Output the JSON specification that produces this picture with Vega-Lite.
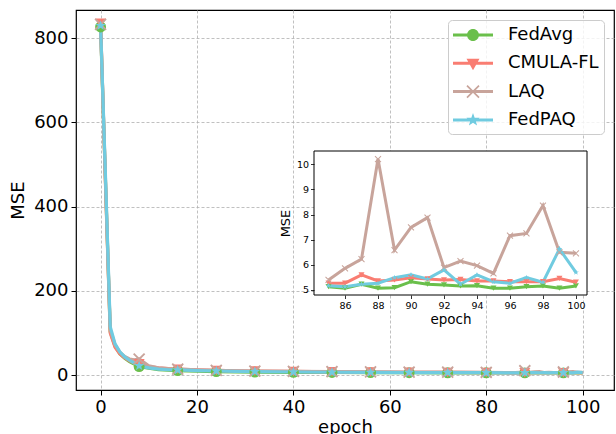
{
  "$schema": "https://vega.github.io/schema/vega-lite/v6.json",
  "width": 538,
  "height": 380,
  "autosize": "none",
  "padding": {"left": 76, "top": 10, "right": 2, "bottom": 44},
  "background": "white",
  "config": {
    "view": {"stroke": "black", "strokeWidth": 1.2},
    "font": "DejaVu Sans",
    "axis": {"labelFont": "DejaVu Sans", "titleFont": "DejaVu Sans", "labelColor": "black", "titleColor": "black", "titleFontWeight": "normal", "tickColor": "black", "domainColor": "black"},
    "legend": {"labelFont": "DejaVu Sans"}
  },
  "datasets": {
    "d": [
      {"series":"FedAvg","epoch":0,"mse":827},{"series":"FedAvg","epoch":1,"mse":465},{"series":"FedAvg","epoch":2,"mse":103},{"series":"FedAvg","epoch":3,"mse":68},{"series":"FedAvg","epoch":4,"mse":50},{"series":"FedAvg","epoch":5,"mse":40},{"series":"FedAvg","epoch":6,"mse":32},{"series":"FedAvg","epoch":7,"mse":26},{"series":"FedAvg","epoch":8,"mse":20},{"series":"FedAvg","epoch":10,"mse":16},{"series":"FedAvg","epoch":12,"mse":13},{"series":"FedAvg","epoch":14,"mse":11.5},{"series":"FedAvg","epoch":16,"mse":10.5},{"series":"FedAvg","epoch":20,"mse":9},{"series":"FedAvg","epoch":24,"mse":8.2},{"series":"FedAvg","epoch":28,"mse":7.6},{"series":"FedAvg","epoch":32,"mse":7.1},{"series":"FedAvg","epoch":40,"mse":6.5},{"series":"FedAvg","epoch":48,"mse":6.0},{"series":"FedAvg","epoch":56,"mse":5.7},{"series":"FedAvg","epoch":64,"mse":5.5},{"series":"FedAvg","epoch":72,"mse":5.3},{"series":"FedAvg","epoch":80,"mse":5.2},{"series":"FedAvg","epoch":84,"mse":5.15},
      {"series":"FedAvg","epoch":85,"mse":5.13},{"series":"FedAvg","epoch":86,"mse":5.07},{"series":"FedAvg","epoch":87,"mse":5.23},{"series":"FedAvg","epoch":88,"mse":5.07},{"series":"FedAvg","epoch":89,"mse":5.09},{"series":"FedAvg","epoch":90,"mse":5.33},{"series":"FedAvg","epoch":91,"mse":5.23},{"series":"FedAvg","epoch":92,"mse":5.20},{"series":"FedAvg","epoch":93,"mse":5.16},{"series":"FedAvg","epoch":94,"mse":5.17},{"series":"FedAvg","epoch":95,"mse":5.07},{"series":"FedAvg","epoch":96,"mse":5.07},{"series":"FedAvg","epoch":97,"mse":5.13},{"series":"FedAvg","epoch":98,"mse":5.16},{"series":"FedAvg","epoch":99,"mse":5.07},{"series":"FedAvg","epoch":100,"mse":5.16},
      {"series":"CMULA-FL","epoch":0,"mse":836},{"series":"CMULA-FL","epoch":1,"mse":460},{"series":"CMULA-FL","epoch":2,"mse":100},{"series":"CMULA-FL","epoch":3,"mse":66},{"series":"CMULA-FL","epoch":4,"mse":50},{"series":"CMULA-FL","epoch":5,"mse":41},{"series":"CMULA-FL","epoch":6,"mse":34},{"series":"CMULA-FL","epoch":7,"mse":29},{"series":"CMULA-FL","epoch":8,"mse":27},{"series":"CMULA-FL","epoch":10,"mse":20},{"series":"CMULA-FL","epoch":12,"mse":17},{"series":"CMULA-FL","epoch":14,"mse":15},{"series":"CMULA-FL","epoch":16,"mse":14},{"series":"CMULA-FL","epoch":20,"mse":12},{"series":"CMULA-FL","epoch":24,"mse":11},{"series":"CMULA-FL","epoch":28,"mse":10},{"series":"CMULA-FL","epoch":32,"mse":9.5},{"series":"CMULA-FL","epoch":40,"mse":8.5},{"series":"CMULA-FL","epoch":48,"mse":7.5},{"series":"CMULA-FL","epoch":56,"mse":7},{"series":"CMULA-FL","epoch":64,"mse":6.5},{"series":"CMULA-FL","epoch":72,"mse":6.2},{"series":"CMULA-FL","epoch":80,"mse":5.9},{"series":"CMULA-FL","epoch":84,"mse":5.5},
      {"series":"CMULA-FL","epoch":85,"mse":5.27},{"series":"CMULA-FL","epoch":86,"mse":5.27},{"series":"CMULA-FL","epoch":87,"mse":5.60},{"series":"CMULA-FL","epoch":88,"mse":5.36},{"series":"CMULA-FL","epoch":89,"mse":5.40},{"series":"CMULA-FL","epoch":90,"mse":5.49},{"series":"CMULA-FL","epoch":91,"mse":5.44},{"series":"CMULA-FL","epoch":92,"mse":5.40},{"series":"CMULA-FL","epoch":93,"mse":5.42},{"series":"CMULA-FL","epoch":94,"mse":5.36},{"series":"CMULA-FL","epoch":95,"mse":5.36},{"series":"CMULA-FL","epoch":96,"mse":5.33},{"series":"CMULA-FL","epoch":97,"mse":5.33},{"series":"CMULA-FL","epoch":98,"mse":5.33},{"series":"CMULA-FL","epoch":99,"mse":5.46},{"series":"CMULA-FL","epoch":100,"mse":5.31},
      {"series":"LAQ","epoch":0,"mse":833},{"series":"LAQ","epoch":1,"mse":470},{"series":"LAQ","epoch":2,"mse":108},{"series":"LAQ","epoch":3,"mse":72},{"series":"LAQ","epoch":4,"mse":54},{"series":"LAQ","epoch":5,"mse":44},{"series":"LAQ","epoch":6,"mse":38},{"series":"LAQ","epoch":7,"mse":36},{"series":"LAQ","epoch":8,"mse":38},{"series":"LAQ","epoch":10,"mse":22},{"series":"LAQ","epoch":12,"mse":17},{"series":"LAQ","epoch":14,"mse":15},{"series":"LAQ","epoch":16,"mse":14},{"series":"LAQ","epoch":20,"mse":12},{"series":"LAQ","epoch":24,"mse":11},{"series":"LAQ","epoch":28,"mse":10},{"series":"LAQ","epoch":32,"mse":9.5},{"series":"LAQ","epoch":40,"mse":8.5},{"series":"LAQ","epoch":48,"mse":8},{"series":"LAQ","epoch":56,"mse":7.5},{"series":"LAQ","epoch":64,"mse":7},{"series":"LAQ","epoch":72,"mse":6.8},{"series":"LAQ","epoch":80,"mse":6.5},{"series":"LAQ","epoch":84,"mse":6.0},
      {"series":"LAQ","epoch":85,"mse":5.40},{"series":"LAQ","epoch":86,"mse":5.86},{"series":"LAQ","epoch":87,"mse":6.23},{"series":"LAQ","epoch":88,"mse":10.21},{"series":"LAQ","epoch":89,"mse":6.59},{"series":"LAQ","epoch":90,"mse":7.49},{"series":"LAQ","epoch":91,"mse":7.88},{"series":"LAQ","epoch":92,"mse":5.89},{"series":"LAQ","epoch":93,"mse":6.15},{"series":"LAQ","epoch":94,"mse":5.97},{"series":"LAQ","epoch":95,"mse":5.66},{"series":"LAQ","epoch":96,"mse":7.16},{"series":"LAQ","epoch":97,"mse":7.25},{"series":"LAQ","epoch":98,"mse":8.36},{"series":"LAQ","epoch":99,"mse":6.50},{"series":"LAQ","epoch":100,"mse":6.46},
      {"series":"FedPAQ","epoch":0,"mse":830},{"series":"FedPAQ","epoch":1,"mse":478},{"series":"FedPAQ","epoch":2,"mse":115},{"series":"FedPAQ","epoch":3,"mse":74},{"series":"FedPAQ","epoch":4,"mse":55},{"series":"FedPAQ","epoch":5,"mse":43},{"series":"FedPAQ","epoch":6,"mse":35},{"series":"FedPAQ","epoch":7,"mse":28},{"series":"FedPAQ","epoch":8,"mse":22},{"series":"FedPAQ","epoch":10,"mse":17},{"series":"FedPAQ","epoch":12,"mse":14},{"series":"FedPAQ","epoch":14,"mse":12.5},{"series":"FedPAQ","epoch":16,"mse":12},{"series":"FedPAQ","epoch":20,"mse":10.5},{"series":"FedPAQ","epoch":24,"mse":9.5},{"series":"FedPAQ","epoch":28,"mse":8.7},{"series":"FedPAQ","epoch":32,"mse":8},{"series":"FedPAQ","epoch":40,"mse":7.2},{"series":"FedPAQ","epoch":48,"mse":6.6},{"series":"FedPAQ","epoch":56,"mse":6.2},{"series":"FedPAQ","epoch":64,"mse":5.9},{"series":"FedPAQ","epoch":72,"mse":5.7},{"series":"FedPAQ","epoch":80,"mse":5.5},{"series":"FedPAQ","epoch":84,"mse":5.3},
      {"series":"FedPAQ","epoch":85,"mse":5.17},{"series":"FedPAQ","epoch":86,"mse":5.13},{"series":"FedPAQ","epoch":87,"mse":5.23},{"series":"FedPAQ","epoch":88,"mse":5.27},{"series":"FedPAQ","epoch":89,"mse":5.49},{"series":"FedPAQ","epoch":90,"mse":5.60},{"series":"FedPAQ","epoch":91,"mse":5.44},{"series":"FedPAQ","epoch":92,"mse":5.80},{"series":"FedPAQ","epoch":93,"mse":5.23},{"series":"FedPAQ","epoch":94,"mse":5.60},{"series":"FedPAQ","epoch":95,"mse":5.33},{"series":"FedPAQ","epoch":96,"mse":5.27},{"series":"FedPAQ","epoch":97,"mse":5.49},{"series":"FedPAQ","epoch":98,"mse":5.31},{"series":"FedPAQ","epoch":99,"mse":6.63},{"series":"FedPAQ","epoch":100,"mse":5.70}
    ]
  },
  "layer": [
    {
      "data": {"name": "d"},
      "layer": [
        {
          "mark": {"type": "line", "strokeWidth": 3.2, "clip": true},
          "encoding": {
            "x": {"field": "epoch", "type": "quantitative", "scale": {"domain": [-5.1, 106.5], "nice": false, "zero": false},
                  "axis": {"orient": "bottom", "values": [0, 20, 40, 60, 80, 100], "title": "epoch", "labelFontSize": 18, "titleFontSize": 18, "grid": true, "gridDash": [3, 2], "gridColor": "#b0b0b0", "gridWidth": 0.8, "tickSize": 5, "tickWidth": 1, "labelPadding": 3, "titlePadding": 2, "domain": false}},
            "y": {"field": "mse", "type": "quantitative", "scale": {"domain": [-35.6, 867.2], "nice": false, "zero": false},
                  "axis": {"orient": "left", "values": [0, 200, 400, 600, 800], "title": "MSE", "labelFontSize": 18, "titleFontSize": 18, "grid": true, "gridDash": [3, 2], "gridColor": "#b0b0b0", "gridWidth": 0.8, "tickSize": 5, "tickWidth": 1, "labelPadding": 3, "titlePadding": 6, "domain": false}},
            "color": {"field": "series", "type": "nominal", "scale": {"domain": ["FedAvg", "CMULA-FL", "LAQ", "FedPAQ"], "range": ["#6abf4b", "#f97d72", "#c8a49b", "#70cbe0"]}, "legend": null},
            "order": {"field": "epoch", "type": "quantitative"}
          }
        },
        {
          "transform": [{"filter": {"field": "epoch", "oneOf": [0, 8, 16, 24, 32, 40, 48, 56, 64, 72, 80, 88, 96]}}],
          "mark": {"type": "point", "filled": true, "opacity": 1, "size": 120},
          "encoding": {
            "x": {"field": "epoch", "type": "quantitative"},
            "y": {"field": "mse", "type": "quantitative"},
            "color": {"field": "series", "type": "nominal", "legend": null},
            "shape": {"field": "series", "type": "nominal", "legend": null, "scale": {"domain": ["FedAvg", "CMULA-FL", "LAQ", "FedPAQ"], "range": ["circle", "triangle-down", "M-0.88,-1.12L1.12,0.88L0.88,1.12L-1.12,-0.88Z M-1.12,0.88L0.88,-1.12L1.12,-0.88L-0.88,1.12Z", "M0,-1L0.235,-0.324L0.951,-0.309L0.38,0.124L0.588,0.809L0,0.4L-0.588,0.809L-0.38,0.124L-0.951,-0.309L-0.235,-0.324Z"]}}
          }
        }
      ]
    },
    {
      "data": {"name": "d"},
      "transform": [{"filter": {"field": "epoch", "gte": 85}}],
      "layer": [
        {
          "transform": [{"aggregate": [{"op": "count", "as": "n"}]}],
          "mark": {"type": "rect", "fill": "white", "stroke": "black", "strokeWidth": 1},
          "encoding": {
            "x": {"datum": 84.12, "type": "quantitative", "scale": {"domain": [84.12, 100.67], "range": [238, 511], "nice": false, "zero": false},
                  "axis": {"orient": "bottom", "zindex": 2, "values": [86, 88, 90, 92, 94, 96, 98, 100], "format": "d", "title": "epoch", "offset": -95, "labelFontSize": 9.5, "titleFontSize": 13.5, "grid": false, "domain": false, "tickSize": 3.5, "tickWidth": 0.8, "labelPadding": 2, "titlePadding": 2}},
            "x2": {"datum": 100.67},
            "y": {"datum": 4.8, "type": "quantitative", "scale": {"domain": [4.8, 10.53], "range": [285, 141], "nice": false, "zero": false},
                  "axis": {"orient": "left", "zindex": 2, "values": [5, 6, 7, 8, 9, 10], "format": "d", "title": "MSE", "offset": -238, "labelFontSize": 9.5, "titleFontSize": 13, "grid": false, "domain": false, "tickSize": 3.5, "tickWidth": 0.8, "labelPadding": 2, "titlePadding": 4}},
            "y2": {"datum": 10.53}
          }
        },
        {
          "mark": {"type": "line", "strokeWidth": 3},
          "encoding": {
            "x": {"field": "epoch", "type": "quantitative"},
            "y": {"field": "mse", "type": "quantitative"},
            "color": {"field": "series", "type": "nominal", "scale": {"domain": ["FedAvg", "CMULA-FL", "LAQ", "FedPAQ"], "range": ["#6abf4b", "#f97d72", "#c8a49b", "#70cbe0"]}, "legend": null},
            "order": {"field": "epoch", "type": "quantitative"}
          }
        },
        {
          "mark": {"type": "point", "filled": true, "opacity": 1, "size": 36},
          "encoding": {
            "x": {"field": "epoch", "type": "quantitative"},
            "y": {"field": "mse", "type": "quantitative"},
            "color": {"field": "series", "type": "nominal", "legend": null},
            "shape": {"field": "series", "type": "nominal", "legend": null, "scale": {"domain": ["FedAvg", "CMULA-FL", "LAQ", "FedPAQ"], "range": ["triangle-down", "triangle-down", "M-0.88,-1.12L1.12,0.88L0.88,1.12L-1.12,-0.88Z M-1.12,0.88L0.88,-1.12L1.12,-0.88L-0.88,1.12Z", "M0,-1L0.235,-0.324L0.951,-0.309L0.38,0.124L0.588,0.809L0,0.4L-0.588,0.809L-0.38,0.124L-0.951,-0.309L-0.235,-0.324Z"]}}
          }
        }
      ]
    },
    {
      "data": {"values": []},
      "mark": {"type": "point", "filled": true, "opacity": 1},
      "encoding": {
        "color": {"field": "series", "type": "nominal",
                  "scale": {"domain": ["FedAvg", "CMULA-FL", "LAQ", "FedPAQ"], "range": ["#6abf4b", "#f97d72", "#c8a49b", "#70cbe0"]},
                  "legend": {"orient": "none", "legendX": 372, "legendY": 10, "title": null, "labelFontSize": 18, "labelColor": "black", "symbolSize": 400, "symbolOffset": 10, "labelOffset": 25, "padding": 5, "rowPadding": 9.3, "fillColor": "rgba(255,255,255,0.8)", "strokeColor": "#cccccc", "cornerRadius": 4, "symbolStrokeWidth": 0}},
        "shape": {"field": "series", "type": "nominal",
                  "scale": {"domain": ["FedAvg", "CMULA-FL", "LAQ", "FedPAQ"], "range": [
                    "M-2,-0.15H2V0.15H-2Z M0.6,0A0.6,0.6,0,1,1,-0.6,0A0.6,0.6,0,1,1,0.6,0Z",
                    "M-2,-0.15H2V0.15H-2Z M-0.65,-0.45L0.65,-0.45L0,0.7Z",
                    "M-2,-0.15H2V0.15H-2Z M-0.54,-0.66L0.66,0.54L0.54,0.66L-0.66,-0.54Z M-0.66,0.54L0.54,-0.66L0.66,-0.54L-0.54,0.66Z",
                    "M-2,-0.15H2V0.15H-2Z M0,-0.7L0.165,-0.227L0.666,-0.216L0.266,0.087L0.412,0.566L0,0.28L-0.412,0.566L-0.266,0.087L-0.666,-0.216L-0.165,-0.227Z"
                  ]},
                  "legend": {"orient": "none", "legendX": 372, "legendY": 10, "title": null, "labelFontSize": 18, "labelColor": "black", "symbolSize": 400, "symbolOffset": 10, "labelOffset": 25, "padding": 5, "rowPadding": 9.3, "fillColor": "rgba(255,255,255,0.8)", "strokeColor": "#cccccc", "cornerRadius": 4, "symbolStrokeWidth": 0}}
      }
    }
  ],
  "resolve": {"scale": {"x": "independent", "y": "independent", "shape": "independent", "color": "independent"}}
}
